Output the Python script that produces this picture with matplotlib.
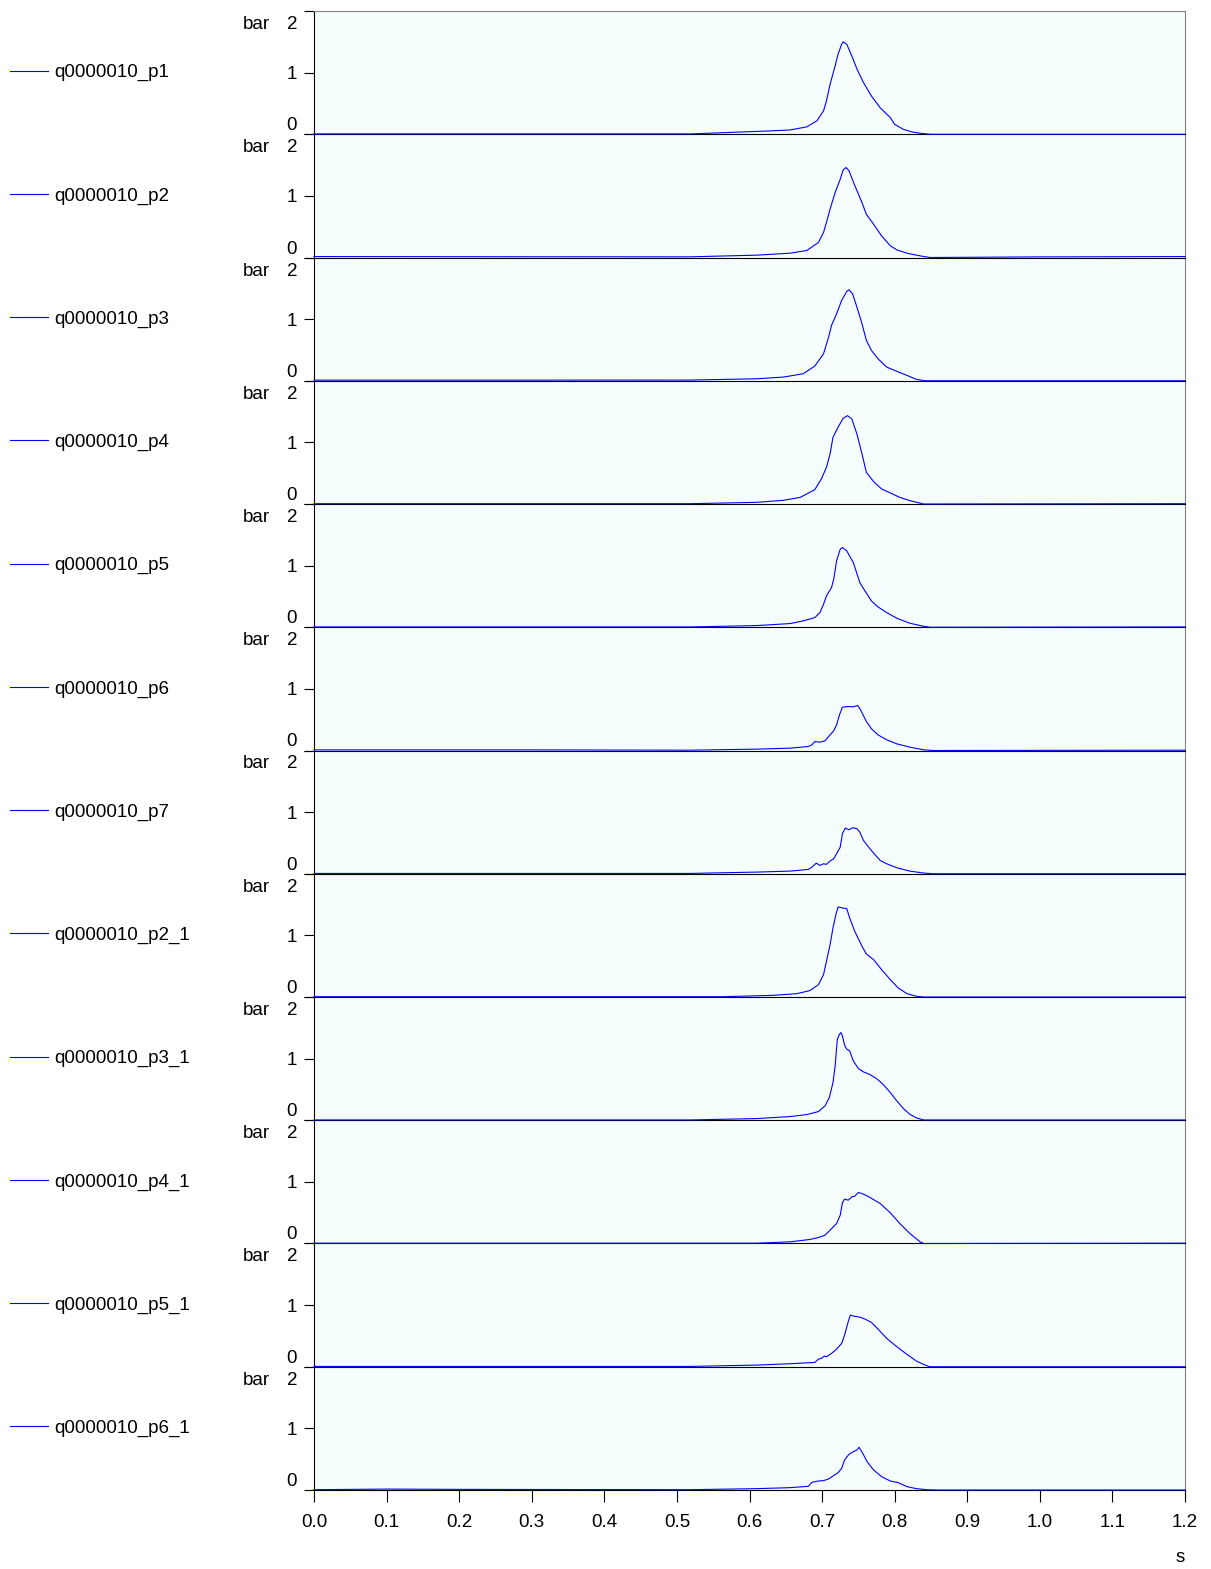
import matplotlib
matplotlib.use("Agg")
import matplotlib.pyplot as plt
import matplotlib.transforms as mtrans

plt.rcParams['font.family'] = ['Liberation Sans', 'DejaVu Sans']

# === Series names (one panel each) ===
names = ["q0000010_p1", "q0000010_p2", "q0000010_p3", "q0000010_p4",
         "q0000010_p5", "q0000010_p6", "q0000010_p7", "q0000010_p2_1",
         "q0000010_p3_1", "q0000010_p4_1", "q0000010_p5_1", "q0000010_p6_1"]

# === Pressure traces (time in s, pressure in bar) ===
t_p1 = [0.0, 0.3, 0.518, 0.628, 0.656, 0.679, 0.693, 0.702, 0.706, 0.711, 0.718, 0.722,
        0.727, 0.729, 0.734, 0.741, 0.748, 0.757, 0.768, 0.780, 0.794, 0.800, 0.812,
        0.823, 0.835, 0.849, 1.2]
v_p1 = [0.005, 0.005, 0.005, 0.054, 0.07, 0.12, 0.22, 0.38, 0.54, 0.81, 1.11, 1.30,
        1.46, 1.50, 1.46, 1.27, 1.06, 0.84, 0.62, 0.43, 0.27, 0.16, 0.08,
        0.04, 0.016, 0.0, 0.0]

t_p2 = [0.0, 0.3, 0.518, 0.610, 0.656, 0.679, 0.695, 0.702, 0.706, 0.711, 0.718, 0.725,
        0.729, 0.733, 0.737, 0.745, 0.755, 0.761, 0.771, 0.782, 0.794, 0.803, 0.817,
        0.830, 0.840, 0.849, 1.0, 1.2]
v_p2 = [0.015, 0.012, 0.011, 0.038, 0.07, 0.114, 0.244, 0.406, 0.568, 0.785, 1.055, 1.27,
        1.42, 1.46, 1.41, 1.17, 0.89, 0.70, 0.54, 0.35, 0.19, 0.124, 0.07,
        0.038, 0.016, 0.0, 0.01, 0.015]

t_p3 = [0.0, 0.3, 0.518, 0.610, 0.647, 0.674, 0.690, 0.702, 0.709, 0.713, 0.720, 0.727,
        0.734, 0.737, 0.742, 0.748, 0.755, 0.761, 0.768, 0.777, 0.789, 0.803, 0.817,
        0.830, 0.842, 1.2]
v_p3 = [0.01, 0.01, 0.011, 0.032, 0.06, 0.114, 0.238, 0.438, 0.709, 0.898, 1.088, 1.304,
        1.45, 1.477, 1.41, 1.195, 0.925, 0.655, 0.492, 0.357, 0.222, 0.152, 0.087,
        0.022, 0.0, 0.0]

t_p4 = [0.0, 0.3, 0.518, 0.610, 0.647, 0.670, 0.690, 0.699, 0.706, 0.711, 0.715, 0.722,
        0.729, 0.735, 0.741, 0.748, 0.755, 0.761, 0.771, 0.782, 0.794, 0.807, 0.821,
        0.840, 1.2]
v_p4 = [0.005, 0.005, 0.005, 0.027, 0.06, 0.108, 0.233, 0.406, 0.595, 0.812, 1.082, 1.245,
        1.39, 1.434, 1.38, 1.136, 0.812, 0.514, 0.363, 0.244, 0.179, 0.108, 0.054,
        0.0, 0.005]

t_p5 = [0.0, 0.3, 0.518, 0.610, 0.656, 0.674, 0.690, 0.697, 0.702, 0.706, 0.713, 0.716,
        0.720, 0.725, 0.728, 0.734, 0.743, 0.752, 0.759, 0.768, 0.777, 0.789, 0.803,
        0.821, 0.840, 0.849, 1.2]
v_p5 = [0.005, 0.005, 0.005, 0.027, 0.06, 0.103, 0.157, 0.238, 0.373, 0.509, 0.644, 0.78,
        1.077, 1.266, 1.293, 1.24, 1.05, 0.725, 0.59, 0.427, 0.33, 0.238, 0.146,
        0.065, 0.016, 0.0, 0.005]

t_p6 = [0.0, 0.3, 0.518, 0.610, 0.656, 0.681, 0.686, 0.690, 0.697, 0.704, 0.711, 0.716,
        0.720, 0.724, 0.728, 0.736, 0.743, 0.749, 0.753, 0.761, 0.768, 0.777, 0.789,
        0.803, 0.821, 0.840, 0.853, 1.2]
v_p6 = [0.01, 0.01, 0.005, 0.022, 0.038, 0.065, 0.092, 0.146, 0.135, 0.157, 0.254, 0.319,
        0.417, 0.579, 0.703, 0.714, 0.709, 0.731, 0.66, 0.471, 0.352, 0.254, 0.173,
        0.108, 0.054, 0.011, 0.0, 0.005]

t_p7 = [0.0, 0.3, 0.518, 0.610, 0.656, 0.681, 0.686, 0.692, 0.697, 0.702, 0.706, 0.711,
        0.716, 0.720, 0.725, 0.728, 0.732, 0.737, 0.742, 0.748, 0.752, 0.757, 0.764,
        0.771, 0.780, 0.789, 0.803, 0.821, 0.840, 0.853, 1.2]
v_p7 = [0.005, 0.005, 0.005, 0.027, 0.043, 0.07, 0.108, 0.173, 0.135, 0.162, 0.152, 0.206,
        0.244, 0.325, 0.433, 0.649, 0.741, 0.714, 0.747, 0.731, 0.676, 0.541, 0.433,
        0.335, 0.216, 0.162, 0.097, 0.043, 0.011, 0.0, 0.0]

t_p2_1 = [0.0, 0.3, 0.564, 0.633, 0.665, 0.683, 0.695, 0.702, 0.706, 0.711, 0.715, 0.719,
          0.722, 0.728, 0.734, 0.738, 0.745, 0.755, 0.761, 0.771, 0.782, 0.794, 0.805,
          0.817, 0.830, 0.840, 1.2]
v_p2_1 = [0.005, 0.005, 0.005, 0.027, 0.054, 0.103, 0.2, 0.363, 0.579, 0.85, 1.12, 1.337,
          1.461, 1.445, 1.434, 1.282, 1.066, 0.823, 0.698, 0.606, 0.444, 0.281, 0.146,
          0.054, 0.011, 0.0, 0.0]

t_p3_1 = [0.0, 0.3, 0.518, 0.610, 0.656, 0.679, 0.695, 0.704, 0.710, 0.715, 0.718, 0.721,
          0.724, 0.726, 0.728, 0.731, 0.734, 0.738, 0.743, 0.750, 0.757, 0.766, 0.775,
          0.784, 0.794, 0.803, 0.812, 0.821, 0.830, 0.840, 1.2]
v_p3_1 = [0.005, 0.005, 0.005, 0.027, 0.06, 0.092, 0.141, 0.233, 0.368, 0.611, 0.882, 1.315,
          1.396, 1.423, 1.369, 1.218, 1.153, 1.126, 0.963, 0.839, 0.785, 0.741, 0.676,
          0.584, 0.449, 0.314, 0.19, 0.097, 0.038, 0.005, 0.005]

t_p4_1 = [0.0, 0.3, 0.518, 0.610, 0.656, 0.683, 0.695, 0.704, 0.711, 0.720, 0.725, 0.728,
          0.731, 0.736, 0.741, 0.745, 0.750, 0.757, 0.766, 0.780, 0.794, 0.807, 0.821,
          0.835, 0.840, 1.2]
v_p4_1 = [0.005, 0.005, 0.005, 0.005, 0.027, 0.065, 0.097, 0.135, 0.216, 0.325, 0.46, 0.66,
          0.72, 0.703, 0.758, 0.768, 0.828, 0.801, 0.747, 0.649, 0.498, 0.325, 0.162,
          0.027, 0.0, 0.005]

t_p5_1 = [0.0, 0.3, 0.518, 0.610, 0.656, 0.690, 0.695, 0.699, 0.703, 0.706, 0.713, 0.720,
          0.727, 0.731, 0.736, 0.739, 0.745, 0.752, 0.759, 0.768, 0.777, 0.789, 0.803,
          0.817, 0.830, 0.840, 0.848, 1.2]
v_p5_1 = [0.005, 0.005, 0.005, 0.027, 0.049, 0.07, 0.124, 0.135, 0.173, 0.162, 0.216, 0.287,
          0.379, 0.514, 0.731, 0.839, 0.817, 0.806, 0.774, 0.72, 0.611, 0.46, 0.325,
          0.2, 0.092, 0.038, 0.0, 0.0]

t_p6_1 = [0.0, 0.1, 0.2, 0.518, 0.610, 0.656, 0.681, 0.686, 0.690, 0.695, 0.702, 0.709,
          0.715, 0.722, 0.727, 0.731, 0.737, 0.743, 0.748, 0.751, 0.756, 0.762, 0.771,
          0.782, 0.794, 0.805, 0.817, 0.830, 0.844, 0.858, 1.2]
v_p6_1 = [0.005, 0.015, 0.01, 0.005, 0.022, 0.038, 0.06, 0.124, 0.135, 0.146, 0.152, 0.179,
          0.227, 0.281, 0.352, 0.487, 0.579, 0.622, 0.649, 0.693, 0.595, 0.46, 0.325,
          0.216, 0.146, 0.119, 0.054, 0.022, 0.005, 0.0, 0.0]

times = [t_p1, t_p2, t_p3, t_p4, t_p5, t_p6, t_p7, t_p2_1, t_p3_1, t_p4_1, t_p5_1, t_p6_1]
values = [v_p1, v_p2, v_p3, v_p4, v_p5, v_p6, v_p7, v_p2_1, v_p3_1, v_p4_1, v_p5_1, v_p6_1]

x_ticks = [0.0, 0.1, 0.2, 0.3, 0.4, 0.5, 0.6, 0.7, 0.8, 0.9, 1.0, 1.1, 1.2]
x_labels = ["0.0", "0.1", "0.2", "0.3", "0.4", "0.5", "0.6", "0.7", "0.8", "0.9", "1.0", "1.1", "1.2"]

# === Figure layout ===
W, H = 1211, 1569
fs = 13.5
n = len(names)
fig = plt.figure(figsize=(W / 100, H / 100), dpi=100)
gs = fig.add_gridspec(n, 1, left=314 / W, right=1185 / W,
                      top=1 - 11 / H, bottom=1 - 1490 / H, hspace=0)
shift_down = mtrans.ScaledTranslation(0, -5 / 100, fig.dpi_scale_trans)

for i, (name, t, v) in enumerate(zip(names, times, values)):
    ax = fig.add_subplot(gs[i])
    ax.set_zorder(n - i)  # upper panels on top so their bottom line stays dark
    ax.set_facecolor('#F5FDFD')
    ax.plot(t, v, color='#0000FF', lw=0.8, label=name, clip_on=False, zorder=3)
    ax.set_xlim(0, 1.2)
    ax.set_ylim(0, 2)

    # y axis: 0 / 1 / 2 with the end labels pulled inside the panel
    ax.set_yticks([0, 1, 2])
    ax.set_yticklabels(["0", "1", "2"])
    ax.tick_params(axis='y', direction='out', length=7.2, width=0.8, pad=5, labelsize=fs)
    yt = ax.yaxis.get_major_ticks()
    yt[0].label1.set_va('bottom')
    yt[2].label1.set_va('top')
    yt[2].label1.set_transform(yt[2].label1.get_transform() + shift_down)
    ax.annotate('bar', xy=(0, 1), xycoords='axes fraction', xytext=(-44, -5),
                textcoords='offset pixels', ha='right', va='top', fontsize=fs)

    for s in ['top', 'right']:
        ax.spines[s].set_color('#808080')
    for s in ['left', 'bottom']:
        ax.spines[s].set_color('black')
    if i > 0:
        ax.spines['top'].set_visible(False)

    if i < n - 1:
        ax.tick_params(axis='x', bottom=False, labelbottom=False)
    else:
        ax.set_xticks(x_ticks)
        ax.set_xticklabels(x_labels)
        ax.tick_params(axis='x', direction='out', length=8.5, width=0.8, pad=9,
                       labelsize=fs, colors='black')

    # legend entry on the far left
    ax.legend(loc='center left', bbox_to_anchor=(-304 / 871, 0.5), frameon=False,
              borderpad=0, borderaxespad=0, handlelength=2.0, handletextpad=0.35,
              fontsize=fs)

fig.text(1180 / W, 1 - 1557 / H, 's', ha='center', va='center', fontsize=fs)

plt.savefig("out.png", dpi=100)
